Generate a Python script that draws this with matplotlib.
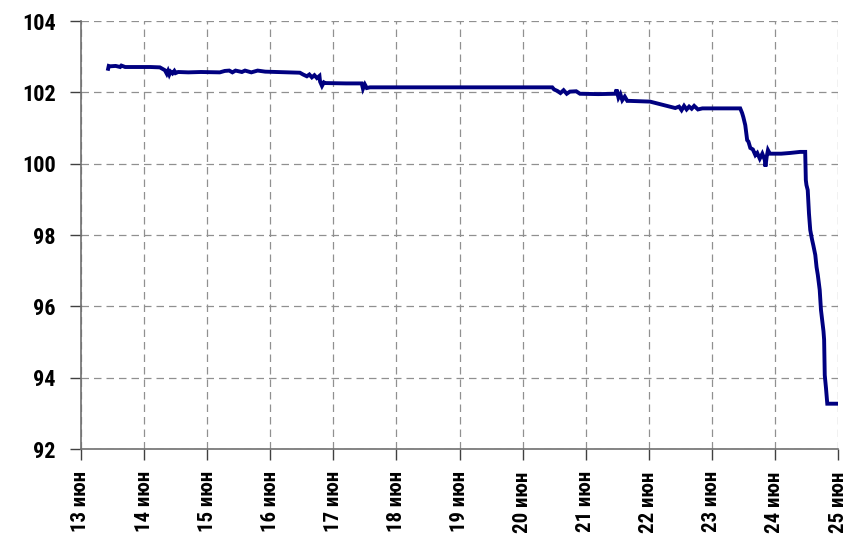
import matplotlib
matplotlib.use("Agg")
import matplotlib.pyplot as plt
from matplotlib import font_manager

# дни (13 = 13 июн), значения цены
days = [
    13.43, 13.44, 13.46, 13.55, 13.62, 13.64, 13.70, 13.90, 14.10, 14.25,
    14.30, 14.33, 14.36, 14.38, 14.40, 14.42, 14.45, 14.48, 14.50, 14.54,
    14.70, 14.90, 15.20, 15.28, 15.35, 15.40, 15.45, 15.55, 15.60, 15.70,
    15.80, 15.92, 16.10, 16.47, 16.52, 16.58, 16.62, 16.66, 16.70, 16.74,
    16.78, 16.79, 16.82, 16.85, 16.87, 17.20, 17.45, 17.47, 17.50, 17.53,
    17.58, 18.00, 19.00, 20.00, 20.47, 20.50, 20.55, 20.60, 20.65, 20.70,
    20.75, 20.85, 20.91, 21.20, 21.47, 21.49, 21.52, 21.55, 21.58, 21.62,
    21.66, 21.70, 22.02, 22.42, 22.48, 22.52, 22.56, 22.60, 22.64, 22.68,
    22.72, 22.78, 22.85, 23.00, 23.20, 23.45, 23.48, 23.50, 23.53, 23.56,
    23.58, 23.61, 23.65, 23.69, 23.72, 23.76, 23.80, 23.84, 23.85, 23.87,
    23.89, 23.92, 24.10, 24.24, 24.40, 24.48, 24.49, 24.50, 24.52, 24.54,
    24.56, 24.58, 24.59, 24.61, 24.64, 24.66, 24.68, 24.70, 24.71, 24.73,
    24.75, 24.77, 24.78, 24.79, 24.81, 24.83, 25.00,
]
price = [
    102.66, 102.74, 102.73, 102.74, 102.71, 102.75, 102.71, 102.71, 102.71, 102.70,
    102.65, 102.62, 102.52, 102.60, 102.50, 102.58, 102.53, 102.60, 102.54, 102.57,
    102.56, 102.57, 102.56, 102.60, 102.61, 102.56, 102.61, 102.57, 102.61, 102.56,
    102.61, 102.58, 102.57, 102.55, 102.50, 102.45, 102.50, 102.42, 102.48, 102.40,
    102.46, 102.30, 102.18, 102.28, 102.26, 102.25, 102.25, 102.10, 102.22, 102.12,
    102.14, 102.14, 102.14, 102.14, 102.14, 102.08, 102.04, 101.98, 102.06, 101.96,
    102.02, 102.03, 101.96, 101.95, 101.96, 102.08, 101.85, 101.95, 101.78, 101.88,
    101.76, 101.76, 101.74, 101.56, 101.60, 101.50, 101.62, 101.52, 101.60, 101.54,
    101.62, 101.52, 101.55, 101.55, 101.55, 101.55, 101.42, 101.30, 101.08, 100.66,
    100.62, 100.44, 100.40, 100.24, 100.30, 100.14, 100.28, 100.10, 99.92, 100.20,
    100.38, 100.28, 100.28, 100.30, 100.33, 100.33, 99.54, 99.40, 99.26, 98.60,
    98.14, 97.95, 97.86, 97.70, 97.44, 97.10, 96.88, 96.60, 96.46, 95.90,
    95.60, 95.30, 95.06, 94.07, 93.70, 93.27, 93.27,
]

x_ticks = list(range(13, 26))
x_labels = [f"{d} июн" for d in x_ticks]
y_ticks = [92, 94, 96, 98, 100, 102, 104]

# узкий шрифт, если есть
names = {f.name for f in font_manager.fontManager.ttflist}
family = ["DejaVu Sans"]
for cand in ("Liberation Sans Narrow", "Roboto Condensed", "Open Sans Condensed"):
    if cand in names:
        family = [cand, "DejaVu Sans"]
        break
plt.rcParams["font.family"] = family
plt.rcParams["font.stretch"] = "condensed"
plt.rcParams["font.weight"] = "bold"

fig = plt.figure(figsize=(8.59, 5.40), dpi=100)
ax = fig.add_axes([81 / 859, 1 - 449 / 540, (838 - 81) / 859, (449 - 21) / 540])

ax.plot(days, price, color="#000080", linewidth=2.8, solid_joinstyle="miter", zorder=3)

ax.set_xlim(13, 25)
ax.set_ylim(92, 104)
ax.set_xticks(x_ticks)
ax.set_xticklabels(x_labels, rotation=90, fontsize=15)
ax.set_yticks(y_ticks)
ax.set_yticklabels([str(v) for v in y_ticks], fontsize=16)

ax.grid(True, color="#909090", linestyle=(0, (6, 4)), linewidth=0.9)
for side in ("top", "right"):
    ax.spines[side].set_visible(False)
for side in ("left", "bottom"):
    ax.spines[side].set_color("#707070")
    ax.spines[side].set_linewidth(1.2)
ax.tick_params(axis="both", direction="out", length=8, width=1.0, color="#404040")
ax.tick_params(axis="x", pad=8)
ax.tick_params(axis="y", pad=10)

fig.savefig("out.png", dpi=100)
